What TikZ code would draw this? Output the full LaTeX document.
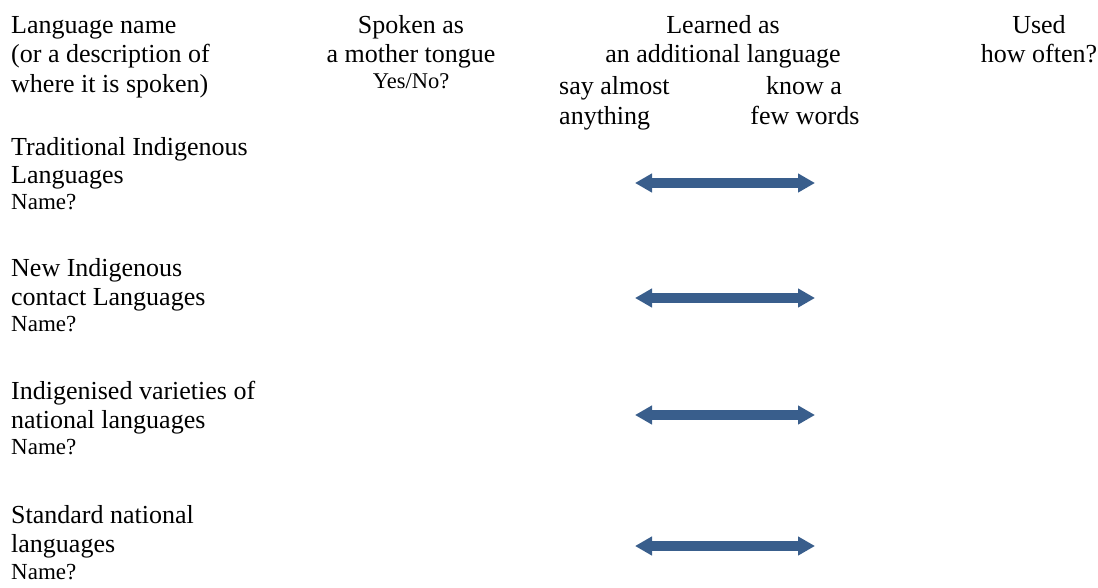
\documentclass[tikz,border=0pt]{standalone}
\usepackage{fontspec}
\setmainfont{Liberation Serif}
\usetikzlibrary{arrows.meta}
\definecolor{arrowblue}{RGB}{57,94,140}
\begin{document}
\begin{tikzpicture}[x=1pt,y=-1pt,
  txt/.style={inner sep=0pt, font=\fontsize{26}{30}\selectfont, anchor=base west},
  ctxt/.style={inner sep=0pt, font=\fontsize{26}{30}\selectfont, anchor=base},
  stxt/.style={inner sep=0pt, font=\fontsize{23}{27}\selectfont, anchor=base west},
  cstxt/.style={inner sep=0pt, font=\fontsize{22.5}{27}\selectfont, anchor=base},
  bigarrow/.style={arrowblue, line width=10pt,
    {Triangle[width=18pt,length=17pt]}-{Triangle[width=18pt,length=17pt]}}
]
\useasboundingbox (0,0) rectangle (1098,587);

% header column 1
\node[txt] (h1a) at (11,33) {Language name};
\node[txt] (h1b) at (11,62) {(or a description of};
\node[txt] (h1c) at (11,92) {where it is spoken)};

% header column 2
\node[ctxt] (h2a) at (411,33) {Spoken as};
\node[ctxt] (h2b) at (411,62) {a mother tongue};
\node[cstxt] (h2c) at (411,88) {Yes/No?};

% header column 3
\node[ctxt] (h3a) at (723,33) {Learned as};
\node[ctxt] (h3b) at (723,62) {an additional language};
\node[txt] (h3c) at (559,94) {say almost};
\node[txt] (h3d) at (559,124) {anything};
\node[ctxt] (h3e) at (804,94) {know a};
\node[ctxt] (h3f) at (805,124) {few words};

% header column 4
\node[ctxt] (h4a) at (1039,33) {Used};
\node[ctxt] (h4b) at (1039,62) {how often?};

% groups
\node[txt] (g1a) at (11,155) {Traditional Indigenous};
\node[txt] (g1b) at (11,183) {Languages};
\node[stxt] (g1c) at (11,209) {Name?};

\node[txt] (g2a) at (11,276) {New Indigenous};
\node[txt] (g2b) at (11,305) {contact Languages};
\node[stxt] (g2c) at (11,331) {Name?};

\node[txt] (g3a) at (11,399) {Indigenised varieties of};
\node[txt] (g3b) at (11,428) {national languages};
\node[stxt] (g3c) at (11,454) {Name?};

\node[txt] (g4a) at (11,523) {Standard national};
\node[txt] (g4b) at (11,552) {languages};
\node[stxt] (g4c) at (11,579) {Name?};

% arrows
\coordinate (a1l) at (635,183); \coordinate (a1r) at (815,183);
\coordinate (a2l) at (635,298); \coordinate (a2r) at (815,298);
\coordinate (a3l) at (635,415); \coordinate (a3r) at (815,415);
\coordinate (a4l) at (635,546); \coordinate (a4r) at (815,546);
\draw[bigarrow] (a1l) -- (a1r);
\draw[bigarrow] (a2l) -- (a2r);
\draw[bigarrow] (a3l) -- (a3r);
\draw[bigarrow] (a4l) -- (a4r);
\end{tikzpicture}
\end{document}
